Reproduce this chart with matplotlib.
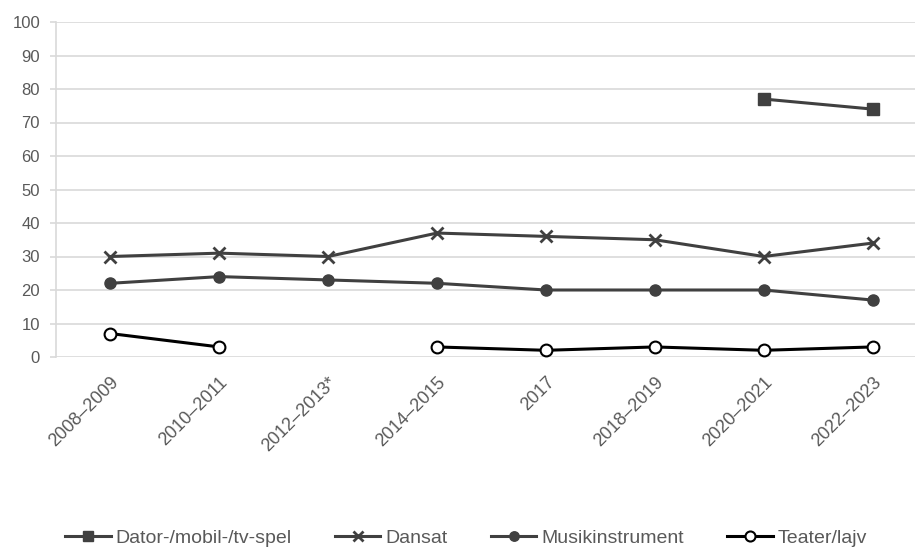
import numpy as np
import matplotlib.pyplot as plt

plt.rcParams['font.family'] = ['Liberation Sans', 'DejaVu Sans']

# Data
periods = ['2008–2009', '2010–2011', '2012–2013*', '2014–2015', '2017',
           '2018–2019', '2020–2021', '2022–2023']
dator = [np.nan, np.nan, np.nan, np.nan, np.nan, np.nan, 77, 74]
dansat = [30, 31, 30, 37, 36, 35, 30, 34]
musik = [22, 24, 23, 22, 20, 20, 20, 17]
teater = [7, 3, np.nan, 3, 2, 3, 2, 3]

x = np.arange(len(periods))
dark = '#404040'
grid = '#d9d9d9'

fig = plt.figure(figsize=(9.15, 5.49), dpi=100)
ax = fig.add_axes([56 / 915, 1 - 357 / 549, 1 - 56 / 915, 335 / 549])

ax.plot(x, dator, color=dark, lw=2.2, marker='s', ms=8, label='Dator-/mobil-/tv-spel')
ax.plot(x, dansat, color=dark, lw=2.2, marker='x', ms=8, mew=2, label='Dansat')
ax.plot(x, musik, color=dark, lw=2.2, marker='o', ms=8, label='Musikinstrument')
ax.plot(x, teater, color='black', lw=2.2, marker='o', ms=8.5, mfc='white',
        mec='black', mew=1.5, label='Teater/lajv')

ax.set_ylim(0, 100)
ax.set_yticks(range(0, 101, 10))
ax.set_xlim(-0.5, 7.5 - 12 / 109)
ax.set_xticks(x)
ax.set_xticklabels(periods, rotation=45, ha='right', rotation_mode='anchor')

ax.grid(axis='y', color=grid, lw=1.2)
ax.set_axisbelow(True)
for s in ['top', 'right', 'bottom']:
    ax.spines[s].set_visible(False)
ax.spines['left'].set_color(grid)
ax.spines['left'].set_linewidth(1.2)
ax.tick_params(axis='y', length=4.5, color=grid, width=1.2, pad=7,
               labelsize=12, labelcolor='#595959')
ax.tick_params(axis='x', length=0, pad=12, labelsize=13, labelcolor='#595959')

fig.legend(loc='center', bbox_to_anchor=(466 / 915, 1 - 538 / 549), ncol=4,
           frameon=False, fontsize=14, labelcolor='#595959', markerscale=0.85,
           handlelength=2.36, columnspacing=2.2, handletextpad=0.26)

fig.savefig('out.png', dpi=100)
